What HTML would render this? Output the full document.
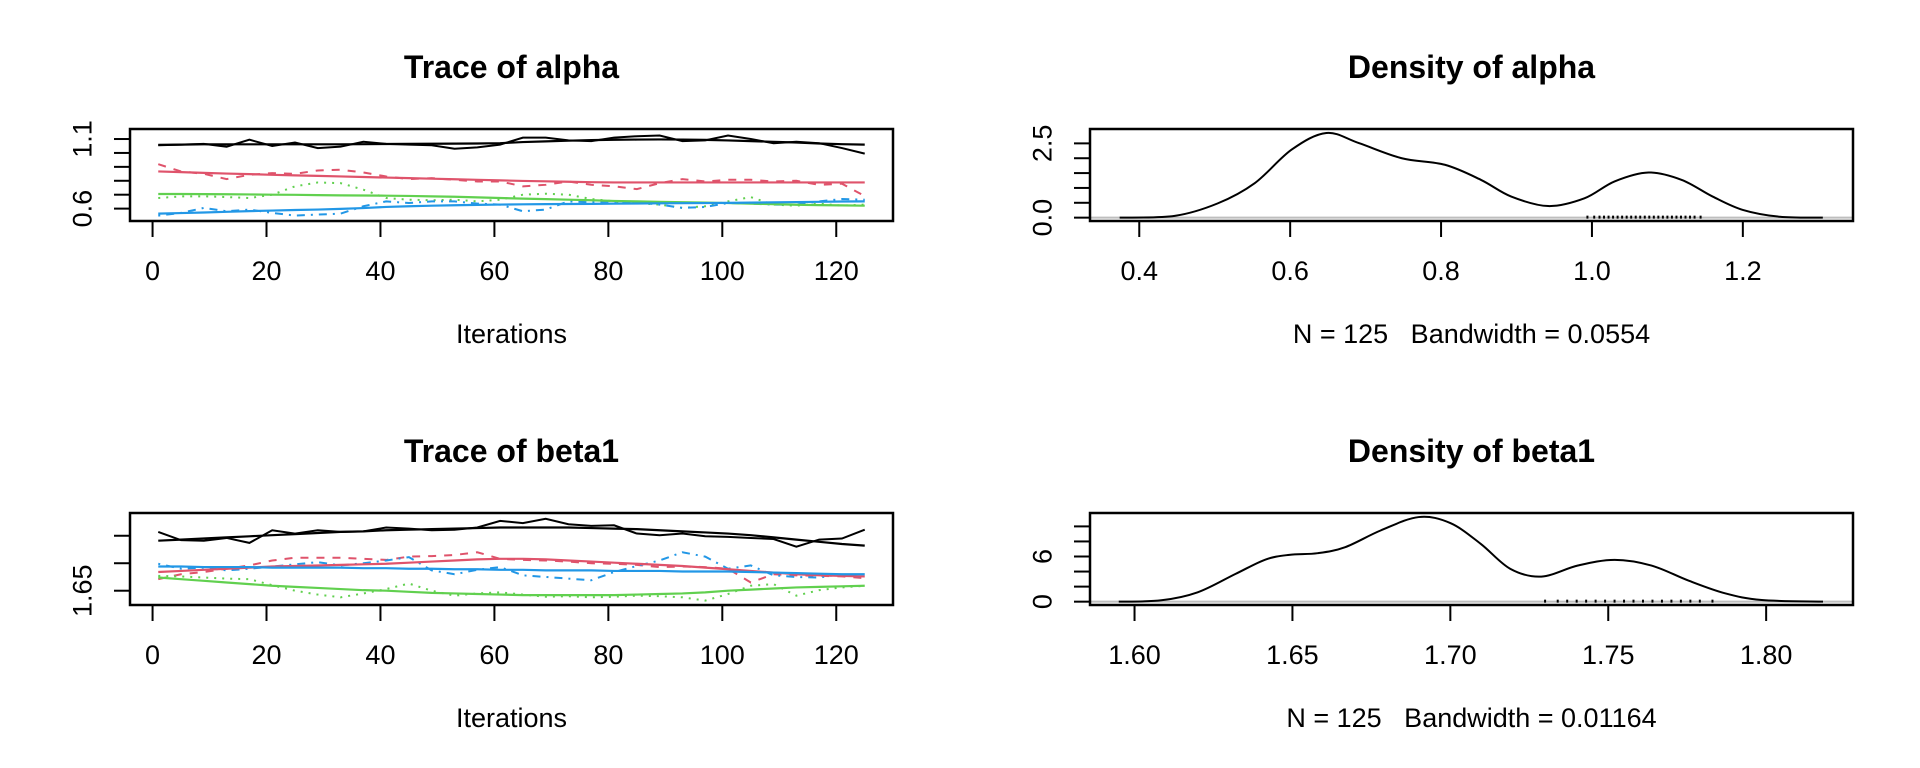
<!DOCTYPE html>
<html><head><meta charset="utf-8"><style>
html,body{margin:0;padding:0;background:#fff;}
svg{display:block;}
text{font-family:"Liberation Sans",sans-serif;fill:#000;}
</style></head><body>
<svg id="chart" width="1920" height="768" viewBox="0 0 1920 768" xmlns="http://www.w3.org/2000/svg"></svg>
<script>
// ---------- data ----------
const iterations = [1,5,9,13,17,21,25,29,33,37,41,45,49,53,57,61,65,69,73,77,81,85,89,93,97,101,105,109,113,117,121,125];
const alphaTickLabels = ["0.6","1.1"];
const alphaChain1 = [1.055,1.060,1.065,1.045,1.095,1.050,1.075,1.035,1.045,1.080,1.065,1.060,1.055,1.030,1.040,1.060,1.110,1.110,1.090,1.085,1.110,1.120,1.125,1.085,1.090,1.125,1.100,1.070,1.080,1.070,1.035,0.995];
const alphaChain1Smooth = [1.058,1.060,1.062,1.062,1.062,1.062,1.062,1.062,1.062,1.063,1.064,1.065,1.066,1.067,1.068,1.070,1.078,1.083,1.088,1.092,1.095,1.096,1.097,1.096,1.094,1.090,1.085,1.080,1.075,1.068,1.063,1.060];
const alphaChain2 = [0.919,0.867,0.850,0.812,0.843,0.855,0.850,0.874,0.879,0.860,0.831,0.812,0.819,0.807,0.795,0.795,0.760,0.771,0.795,0.771,0.760,0.740,0.783,0.812,0.795,0.807,0.807,0.795,0.800,0.771,0.779,0.690];
const alphaChain2Smooth = [0.867,0.862,0.857,0.852,0.848,0.843,0.839,0.835,0.831,0.827,0.823,0.819,0.815,0.811,0.807,0.803,0.799,0.796,0.793,0.790,0.788,0.788,0.788,0.788,0.788,0.788,0.788,0.788,0.788,0.788,0.788,0.788];
const alphaChain3 = [0.676,0.688,0.688,0.683,0.676,0.700,0.760,0.788,0.783,0.736,0.676,0.664,0.660,0.664,0.652,0.664,0.700,0.707,0.700,0.669,0.652,0.640,0.629,0.605,0.617,0.652,0.683,0.629,0.621,0.636,0.621,0.629];
const alphaChain3Smooth = [0.705,0.705,0.704,0.703,0.702,0.700,0.699,0.697,0.695,0.694,0.693,0.691,0.688,0.685,0.681,0.676,0.672,0.668,0.664,0.660,0.655,0.652,0.649,0.646,0.643,0.640,0.636,0.632,0.628,0.625,0.623,0.621];
const alphaChain4 = [0.550,0.569,0.605,0.581,0.593,0.569,0.550,0.557,0.564,0.617,0.652,0.640,0.652,0.652,0.636,0.629,0.581,0.593,0.652,0.645,0.652,0.645,0.629,0.605,0.612,0.640,0.636,0.629,0.629,0.652,0.669,0.664];
const alphaChain4Smooth = [0.564,0.568,0.572,0.577,0.582,0.586,0.590,0.593,0.598,0.604,0.612,0.617,0.621,0.624,0.627,0.629,0.631,0.632,0.633,0.634,0.636,0.637,0.638,0.639,0.640,0.641,0.643,0.645,0.647,0.649,0.651,0.652];

const beta1TickLabels = ["1.65"];
const betaChain1 = [1.757,1.742,1.741,1.746,1.737,1.760,1.754,1.760,1.757,1.758,1.765,1.763,1.760,1.761,1.765,1.777,1.773,1.781,1.771,1.768,1.769,1.754,1.751,1.754,1.749,1.748,1.746,1.744,1.730,1.743,1.745,1.761];
const betaChain1Smooth = [1.741,1.743,1.745,1.747,1.749,1.751,1.753,1.755,1.757,1.758,1.760,1.761,1.762,1.763,1.764,1.765,1.765,1.765,1.765,1.764,1.763,1.762,1.760,1.758,1.756,1.754,1.751,1.747,1.743,1.739,1.735,1.732];
const betaChain2 = [1.671,1.680,1.684,1.690,1.696,1.705,1.710,1.710,1.710,1.708,1.706,1.712,1.713,1.715,1.720,1.708,1.706,1.705,1.703,1.700,1.699,1.697,1.693,1.694,1.693,1.690,1.665,1.680,1.678,1.677,1.676,1.673];
const betaChain2Smooth = [1.684,1.686,1.688,1.690,1.692,1.694,1.695,1.696,1.697,1.698,1.699,1.701,1.703,1.705,1.707,1.708,1.708,1.707,1.705,1.703,1.701,1.699,1.697,1.695,1.692,1.689,1.686,1.683,1.680,1.678,1.677,1.676];
const betaChain3 = [1.677,1.676,1.674,1.672,1.671,1.660,1.650,1.643,1.638,1.645,1.653,1.663,1.650,1.641,1.645,1.647,1.643,1.639,1.640,1.638,1.639,1.641,1.640,1.638,1.632,1.644,1.659,1.662,1.641,1.651,1.656,1.659];
const betaChain3Smooth = [1.674,1.671,1.668,1.665,1.662,1.659,1.657,1.655,1.653,1.651,1.650,1.648,1.646,1.645,1.644,1.643,1.642,1.642,1.642,1.642,1.642,1.643,1.644,1.645,1.647,1.650,1.652,1.654,1.656,1.657,1.658,1.659];
const betaChain4 = [1.699,1.690,1.692,1.687,1.690,1.694,1.698,1.702,1.696,1.700,1.705,1.711,1.687,1.680,1.688,1.693,1.678,1.675,1.672,1.669,1.684,1.695,1.705,1.720,1.712,1.690,1.696,1.678,1.675,1.674,1.680,1.674];
const betaChain4Smooth = [1.694,1.694,1.693,1.693,1.693,1.692,1.692,1.692,1.692,1.691,1.691,1.690,1.690,1.689,1.689,1.688,1.688,1.687,1.687,1.687,1.686,1.686,1.686,1.685,1.685,1.685,1.684,1.683,1.682,1.681,1.680,1.680];

const iterTicks = [0,20,40,60,80,100,120];

const alphaDensX = [0.374,0.447,0.504,0.553,0.602,0.648,0.691,0.748,0.805,0.853,0.893,0.942,0.990,1.030,1.075,1.119,1.160,1.200,1.249,1.306];
const alphaDensY = [0,0.06,0.48,1.16,2.29,2.85,2.51,2.00,1.78,1.27,0.71,0.39,0.65,1.22,1.52,1.27,0.71,0.26,0.03,0];
const alphaDensTicksX = ["0.4","0.6","0.8","1.0","1.2"];
const alphaDensTicksY = [0,0.5,1,1.5,2,2.5];
const alphaDensLabelsY = ["0.0","2.5"];
const alphaRug = [0.994,1.003,1.010,1.016,1.022,1.028,1.034,1.040,1.046,1.052,1.058,1.064,1.070,1.076,1.082,1.088,1.094,1.100,1.106,1.112,1.118,1.124,1.130,1.136,1.144];

const betaDensX = [1.595,1.6085,1.620,1.632,1.6415,1.649,1.658,1.6667,1.678,1.690,1.700,1.7096,1.719,1.7288,1.7404,1.752,1.7637,1.7754,1.787,1.7986,1.818];
const betaDensY = [0,0.18,1.24,3.69,5.60,6.22,6.44,7.24,9.47,11.24,10.44,7.69,4.36,3.33,4.80,5.56,4.80,2.80,1.11,0.22,0];
const betaDensTicksX = ["1.60","1.65","1.70","1.75","1.80"];
const betaDensTicksY = [0,2,4,6,8,10];
const betaDensLabelsY = ["0","6"];
const betaRug = [1.730,1.734,1.737,1.740,1.743,1.746,1.749,1.752,1.755,1.758,1.761,1.764,1.767,1.770,1.773,1.776,1.779,1.783];

// ---------- drawing ----------
const NS = "http://www.w3.org/2000/svg";
const svg = document.getElementById('chart');
function mk(tag, attrs, parent){ const e=document.createElementNS(NS,tag); for(const k in attrs) e.setAttribute(k,attrs[k]); (parent||svg).appendChild(e); return e; }
function scale(d0,d1,r0,r1){ return v => r0 + (v-d0)/(d1-d0)*(r1-r0); }
const COLORS = ["#000000","#DF536B","#61D04F","#2297E6"];
const DASH = ["none","8,8","2,6","2,6,8,6"];
const L=130,R=893,T=129,B=221,CX=(L+R)/2;

function frame(g){
  const r = mk('rect',{x:L,y:T,width:R-L,height:B-T,fill:'none',stroke:'#000','stroke-width':2.5},g);
  
  
}
function title(g, txt){
  const t = mk('text',{x:CX,y:78,'text-anchor':'middle','font-size':32,'font-weight':'bold'},g);
  t.textContent = txt;
  
  
}
function xAxis(g, vals, labels, xs){
  const ax = mk('g',{},g);
  
  
  mk('line',{x1:xs(vals[0]),x2:xs(vals[vals.length-1]),y1:B,y2:B,stroke:'#000','stroke-width':2},ax);
  vals.forEach((v,i)=>{
    mk('line',{x1:xs(v),x2:xs(v),y1:B,y2:B+16,stroke:'#000','stroke-width':2},ax);
    const t = mk('text',{x:xs(v),y:B+59,'text-anchor':'middle','font-size':27},ax);
    t.textContent = labels[i];
    
    
  });
}
function yAxis(g, vals, ys, labelVals, labels){
  const ax = mk('g',{},g);
  
  
  vals.forEach(v=>{ mk('line',{x1:L-16,x2:L,y1:ys(v),y2:ys(v),stroke:'#000','stroke-width':2},ax); });
  labelVals.forEach((v,i)=>{
    const x = L-48, y = ys(v);
    const t = mk('text',{x:x,y:y,'text-anchor':'middle','font-size':27,transform:`rotate(-90 ${x} ${y})`,dy:'0.36em'},ax);
    t.textContent = labels[i];
    
    
  });
}
function subLabel(g, txt){
  const t = mk('text',{x:CX,y:343,'text-anchor':'middle','font-size':27,'xml:space':'preserve'},g);
  t.style.whiteSpace='pre';
  t.textContent = txt;
  
  
}
function tracePanel(ox, oy, name, ttl, chains, smooths, yMin, yMax, yTicks, yLabelVals, yLabels){
  const g = mk('g',{transform:`translate(${ox},${oy})`});
  
  
  const xs = scale(-3.96,129.96,L,R), ys = scale(yMin,yMax,B,T);
  title(g, ttl);
  chains.forEach((c,ci)=>{
    const p = mk('polyline',{points:iterations.map((it,i)=>xs(it)+','+ys(c[i])).join(' '),fill:'none',stroke:COLORS[ci],'stroke-width':2,'stroke-dasharray':DASH[ci]},g);
    
    
  });
  smooths.forEach((c,ci)=>{
    const p = mk('polyline',{points:iterations.map((it,i)=>xs(it)+','+ys(c[i])).join(' '),fill:'none',stroke:COLORS[ci],'stroke-width':2.2},g);
    
    
  });
  frame(g);
  xAxis(g, iterTicks, iterTicks.map(String), xs);
  yAxis(g, yTicks, ys, yLabelVals, yLabels);
  subLabel(g,'Iterations');
}
function smoothPath(pts){
  let d = `M${pts[0][0]},${pts[0][1]}`;
  for(let i=0;i<pts.length-1;i++){
    const p0=pts[Math.max(0,i-1)],p1=pts[i],p2=pts[i+1],p3=pts[Math.min(pts.length-1,i+2)];
    const c1=[p1[0]+(p2[0]-p0[0])/6,p1[1]+(p2[1]-p0[1])/6], c2=[p2[0]-(p3[0]-p1[0])/6,p2[1]-(p3[1]-p1[1])/6];
    d+=` C${c1[0]},${c1[1]} ${c2[0]},${c2[1]} ${p2[0]},${p2[1]}`;
  }
  return d;
}
function densityPanel(ox, oy, name, ttl, dx, dy, xMin, xMax, yMin, yMax, xTickLabels, yTicks, yLabelVals, yLabels, rug, sub){
  const g = mk('g',{transform:`translate(${ox},${oy})`});
  
  
  const xs = scale(xMin,xMax,L,R), ys = scale(yMin,yMax,B,T);
  title(g, ttl);
  const zl = mk('line',{x1:L,x2:R,y1:ys(0),y2:ys(0),stroke:'#bebebe','stroke-width':2},g);
  
  
  const p = mk('path',{d:smoothPath(dx.map((x,i)=>[xs(x),ys(dy[i])])),fill:'none',stroke:'#000','stroke-width':2},g);
  
  
  rug.forEach(v=>{
    const r = mk('line',{x1:xs(v),x2:xs(v),y1:ys(0)+1,y2:ys(0)-2,stroke:'#000','stroke-width':2},g);
    
    
  });
  frame(g);
  xAxis(g, xTickLabels.map(Number), xTickLabels, xs);
  yAxis(g, yTicks, ys, yLabelVals, yLabels);
  subLabel(g, sub);
}

tracePanel(0,0,'trace-alpha-panel','Trace of alpha',
  [alphaChain1,alphaChain2,alphaChain3,alphaChain4],[alphaChain1Smooth,alphaChain2Smooth,alphaChain3Smooth,alphaChain4Smooth],
  0.511,1.172,[0.6,0.7,0.8,0.9,1.0,1.1],alphaTickLabels.map(Number),alphaTickLabels);
densityPanel(960,0,'density-alpha-panel','Density of alpha',alphaDensX,alphaDensY,0.3347,1.346,-0.113,2.984,
  alphaDensTicksX,alphaDensTicksY,alphaDensLabelsY.map(Number),alphaDensLabelsY,alphaRug,'N = 125   Bandwidth = 0.0554');
tracePanel(0,384,'trace-beta1-panel','Trace of beta1',
  [betaChain1,betaChain2,betaChain3,betaChain4],[betaChain1Smooth,betaChain2Smooth,betaChain3Smooth,betaChain4Smooth],
  1.624,1.7914,[1.65,1.70,1.75],beta1TickLabels.map(Number),beta1TickLabels);
densityPanel(960,384,'density-beta1-panel','Density of beta1',betaDensX,betaDensY,1.5859,1.8275,-0.444,11.78,
  betaDensTicksX,betaDensTicksY,betaDensLabelsY.map(Number),betaDensLabelsY,betaRug,'N = 125   Bandwidth = 0.01164');
</script>
</body></html>
